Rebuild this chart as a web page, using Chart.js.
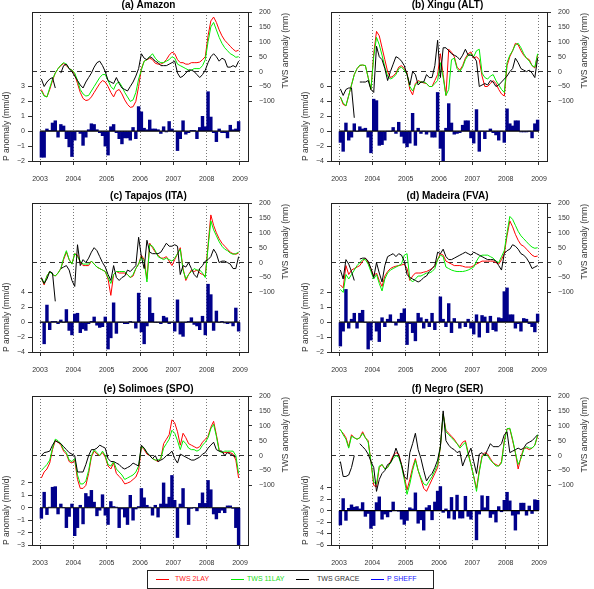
<!DOCTYPE html>
<html>
<head>
<meta charset="utf-8">
<script src="https://cdn.jsdelivr.net/npm/chart.js@4.4.1/dist/chart.umd.min.js"></script>
<style>
    body { margin: 0; background: #fff; width: 594px; height: 589px; position: relative; overflow: hidden; }
    canvas { position: absolute; }
    #legend { position: absolute; left: 147px; top: 570px; width: 285px; height: 17px; border: 1px solid #222;
              font: 7px "Liberation Sans", Arial, sans-serif; z-index: 2; background: #fff; }
    #legend .ln { position: absolute; display: block; top: 8px; width: 13px; height: 0; border-top: 1px solid; }
    #legend .tx { position: absolute; top: 4px; white-space: nowrap; }
</style>
</head>
<body>
<canvas id="pa" width="297" height="190" style="left:0px;top:0px"></canvas>
<canvas id="pb" width="297" height="190" style="left:299px;top:0px"></canvas>
<canvas id="pc" width="297" height="190" style="left:0px;top:191px"></canvas>
<canvas id="pd" width="297" height="190" style="left:299px;top:191px"></canvas>
<canvas id="pe" width="297" height="190" style="left:0px;top:384px"></canvas>
<canvas id="pf" width="297" height="190" style="left:299px;top:384px"></canvas>
<div id="legend">
    <span class="ln" style="left:8px;border-color:#ff0000"></span><span class="tx" style="left:27px;color:#ff2020">TWS 2LAY</span>
    <span class="ln" style="left:83px;border-color:#00ee00"></span><span class="tx" style="left:99px;color:#20dd20">TWS 11LAY</span>
    <span class="ln" style="left:148px;border-color:#000000"></span><span class="tx" style="left:169px;color:#333">TWS GRACE</span>
    <span class="ln" style="left:223px;border-color:#0000ff"></span><span class="tx" style="left:239px;color:#2020ff">P SHEFF</span>
</div>
<script>
// Tick labels
const yearTicks = [2003, 2004, 2005, 2006, 2007, 2008, 2009];
const twsTicks = [-100, -50, 0, 50, 100, 150, 200];

// (a) Amazon
const pAmazon = [-1.75, -1.75, 0.15, 0.05, 0.55, 0.7, -0.4, 0.45, 0.35, -0.5, -1.05, -1.7,
    -0.6, 0.0, -0.15, -0.95, -0.4, 0.1, 0.5, 0.45, 0.1, -0.1, -0.3, -1.0,
    -1.6, 0.3, 0.45, -0.1, -0.5, -0.85, -0.45, -0.45, -0.6, 0.25, -0.5, 1.65,
    1.3, 0.2, 0.1, 0.75, 0.15, 0.15, 0.1, -0.15, 0.3, -0.05, 0.65, 0.15,
    0.0, -1.3, -0.5, 0.7, -0.2, -0.1, 0.05, 0.05, -0.5, 0.25, 1.0, 0.3,
    2.65, 0.95, -0.1, -0.7, 0.15, -0.1, -0.1, -0.45, 0.4, 0.1, 0.15, 0.65];
const tws2Amazon = [-60, -80, -85, -60, -30, -5, 10, 20, 27, 20, 10, 5,
    -10, -40, -70, -90, -97, -95, -85, -70, -55, -40, -30, -35,
    -50, -70, -85, -65, -60, -75, -95, -110, -120, -118, -100, -50,
    10, 35, 40, 45, 40, 28, 25, 25, 30, 40, 55, 65,
    60, 40, 30, 30, 25, 25, 30, 30, 30, 32, 40, 50,
    120, 170, 183, 165, 140, 120, 105, 95, 85, 75, 68, 72];
const tws11Amazon = [-65, -82, -85, -55, -25, -5, 10, 22, 30, 25, 10, 5,
    -5, -30, -60, -75, -82, -80, -65, -50, -35, -20, -10, -10,
    -30, -50, -60, -40, -35, -50, -70, -85, -100, -95, -70, -25,
    5, 35, 40, 50, 60, 45, 35, 30, 30, 35, 40, 50,
    45, 25, 20, 15, 10, 5, 5, 10, 10, 10, 20, 40,
    100, 150, 165, 140, 115, 95, 80, 70, 60, 55, 48, 50];
const graceAmazon = [-25, -50, -35, -25, -20, -55, null, -5, 20, 25, 10, 0,
    -15, -30, -45, -55, -35, -20, -5, 15, 30, 35, 20, 0,
    -30, -35, -40, -20, -40, -55, -60, -65, -50, -35, -15, 10,
    60, 45, 40, 50, 45, 35, 30, 20, 20, 20, 25, 30,
    35, -5, -20, -15, -5, 5, 5, 0, -10, -20, -10, 5,
    30, 50, 60, 50, 35, 45, 40, 15, 15, 20, 15, 35];

// (b) Xingu (ALT)
const pXingu = [-1.5, -2.7, 1.1, -1.2, -0.8, 1.0, 0.0, 0.6, 0.3, 0.4, -0.8, -2.9,
    4.3, 4.1, -1.9, -1.8, -1.2, 0.0, 0.0, 0.5, -0.3, 1.2, -0.7, -1.6,
    -2.1, -1.6, 2.4, -1.9, 0.4, -0.3, 0.0, -0.4, -0.1, -0.8, -0.8, 5.2,
    -2.3, -4.0, 0.4, 3.7, 1.1, -0.4, -0.3, -0.2, 0.8, 1.4, 1.4, -0.9,
    -1.6, 2.9, -2.7, 0.0, -1.0, 0.0, 0.3, -0.2, -0.5, -1.2, 0.0, -1.5,
    3.0, 1.0, 0.7, 1.4, 1.4, -0.1, -0.1, -0.1, 0.0, -0.9, 1.0, 1.5];
const tws2Xingu = [-85, -110, -115, -80, -45, -10, 10, 20, 22, 20, -20, -60,
    60, 135, 120, 80, 40, 0, -20, -15, -5, 15, 20, 10,
    -5, -60, -78, -40, -30, -35, -38, -40, -50, -50, -30, -10,
    60, -10, -80, 75, 65, 50, 15, 5, 20, 45, 60, 66,
    45, 50, 40, -15, -50, -50, -40, -30, -40, -60, -75, -82,
    20, 50, 70, 95, 90, 70, 55, 45, 40, 20, 12, 55];
const tws11Xingu = [-85, -105, -115, -80, -45, -10, 10, 22, 22, 20, -20, -60,
    50, 115, 90, 55, 15, -15, -25, -20, -10, 10, 15, 5,
    -10, -50, -65, -45, -35, -35, -35, -40, -50, -50, -40, -30,
    30, -20, -80, -60, 40, 45, 10, 0, 15, 40, 55, 60,
    50, 70, 75, -5, -20, -25, -15, -10, -30, -45, -60, -70,
    30, 55, 70, 90, 95, 80, 60, 45, 35, 20, 15, 60];
const graceXingu = [-58, -80, -60, -55, -55, -155, null, -35, -35, -35, -30, -60,
    -70, 85, 50, 40, 10, -30, 0, 25, 50, 45, 35, 20,
    -10, -45, 0, -10, -45, -35, -35, -10, -20, -20, 20, 105,
    -20, 80, 80, 70, 60, 55, 50, 40, 55, 75, 55, 55,
    50, 35, -50, -45, -40, -45, -30, -35, -50, -45, -35, -25,
    -15, 0, 10, 45, 30, 10, 5, 0, 5, -5, -20, 45];

// (c) Tapajos (ITA)
const pTapajos = [0.0, -2.9, 2.3, -1.0, 0.1, 0.1, -0.2, 0.3, 0.0, 1.7, -1.1, -1.7,
    1.1, 1.2, -1.4, -0.9, -1.1, -0.2, 0.1, 0.7, -0.4, -0.7, -0.6, 0.7,
    -3.6, -2.1, 2.6, -1.5, 0.0, 0.0, -0.2, -0.2, 0.1, 0.0, -0.8, 3.9,
    -1.3, -2.9, -0.5, 3.3, 1.2, 0.0, 0.0, -0.2, 0.8, 0.6, -0.2, 0.0,
    -1.2, 3.0, -1.6, -1.9, 0.0, 0.1, 0.6, -0.3, -0.5, -1.0, 0.8, -1.7,
    5.1, 3.7, -1.1, 1.5, 0.0, 0.1, -0.1, -0.2, -0.1, -0.5, 1.9, -1.2];
const tws2Tapajos = [-52, -75, -45, -30, -40, -45, -35, -20, 10, 35, 10, -5,
    30, 25, 0, -10, -10, -10, 5, -5, -15, -20, -25, -30,
    -55, -110, -40, -30, -35, -35, -35, -40, -50, -45, -20, -5,
    25, 10, -55, 65, 50, 35, 25, 15, 15, 20, 5, -10,
    10, 30, 50, -20, -60, -40, -25, -30, -25, -35, -40, -45,
    60, 160, 125, 100, 80, 65, 55, 45, 35, 30, 28, 32];
const tws11Tapajos = [-55, -70, -45, -30, -40, -45, -35, -20, 15, 40, 10, -5,
    30, 20, 5, -5, -5, -5, 5, -5, -15, -20, -25, -30,
    -50, -70, -40, -30, -30, -30, -30, -40, -50, -40, -20, -5,
    20, 5, -65, 60, 55, 40, 20, 15, 10, 15, 10, 5,
    15, 30, 45, -25, -55, -40, -30, -20, -25, -25, -35, -50,
    50, 140, 110, 90, 70, 55, 45, 40, 32, 28, 30, 35];
const graceTapajos = [-50, -70, -55, -30, -35, -130, null, -20, -15, -10, -25, -60,
    -80, 60, -10, 10, 0, 15, 35, 50, 40, 20, 0, -15,
    -40, -60, -10, -50, -60, -50, -45, -25, -30, -20, -10, 85,
    20, -20, 75, 35, 30, 30, 30, 35, 50, 65, 55, 55,
    60, 55, -40, -10, -15, 0, -20, -40, -50, -20, -10, 5,
    10, 20, 45, 30, 0, 5, 5, 0, -5, -20, -20, 20];

// (d) Madeira (FVA)
const pMadeira = [-1.6, -0.6, 2.2, -0.4, 0.2, 0.6, -0.4, 0.6, 0.8, 0.0, -1.8, -1.2,
    0.0, -0.6, -1.3, 0.3, -0.3, 0.2, 0.5, 0.0, -0.2, 0.2, 0.6, 0.9,
    -1.5, -0.1, -0.7, -1.25, 0.6, 0.3, -0.4, 0.2, -0.3, 0.6, -0.5, 0.0,
    1.7, 0.2, -0.3, 1.25, -0.7, 0.25, 0.0, -0.4, 0.0, -0.3, 0.2, -0.4,
    -0.8, 0.5, -1.0, 0.45, 0.35, -0.7, 0.4, -0.5, -0.6, 0.3, 0.25, 2.05,
    2.3, 0.5, 0.5, -0.4, -0.1, -0.6, 0.25, 0.2, -0.1, -0.3, -0.65, 0.55];
const tws2Madeira = [-75, -85, -10, -40, -25, -20, -15, -10, 5, 15, 0, -20,
    -45, -35, -60, -80, -45, -30, -20, -15, -12, -10, -8, -5,
    -20, -60, -45, -35, -35, -35, -32, -30, -25, -20, -10, 10,
    30, 25, 5, 0, -5, -10, -10, -10, -12, -15, -15, -15,
    -10, -5, 0, 5, 5, 5, 5, 5, 0, -5, 10, 30,
    90, 140, 120, 95, 75, 60, 55, 45, 35, 25, 20, 22];
const tws11Madeira = [-90, -100, -40, -55, -40, -25, -10, 0, 10, 10, -5, -30,
    -55, -40, -70, -95, -55, -35, -25, -20, -15, -10, -5, 25,
    30, -55, -65, -55, -45, -45, -40, -35, -35, -30, -20, 10,
    25, 20, -15, -20, -25, -28, -30, -30, -30, -28, -25, -20,
    -15, 5, 20, 25, 25, 25, 20, 15, 5, 0, 20, 40,
    100, 155, 145, 125, 105, 90, 80, 70, 60, 52, 48, 50];
const graceMadeira = [-25, -55, 10, -5, -30, -60, null, 12, 15, 15, 5, -20,
    -50, 0, -35, -65, -10, 20, 25, 30, 20, 30, 25, 5,
    -40, -50, -55, -60, -65, -60, -50, -45, -30, -20, -10, 35,
    30, 45, 20, 10, 10, 15, 20, 25, 30, 35, 30, 25,
    35, 30, 25, 20, 15, 10, 10, 10, 5, -10, -25, 30,
    40, 45, 60, 55, 45, 30, 25, 15, 0, -20, -15, -10];

// (e) Solimoes (SPO)
const pSolimoes = [-0.85, 1.25, -0.55, 0.05, 1.65, 1.7, -0.5, 0.3, 0.0, -1.6, -0.7, 0.3,
    -2.25, -1.6, 0.2, -1.3, 1.15, 0.9, 1.4, 0.45, -0.65, -0.2, 1.05, -0.6,
    -1.35, 0.5, 0.1, 0.05, -1.6, -0.1, -0.75, -1.35, 1.0, -1.0, -0.1, 0.1,
    1.55, 0.8, 0.2, 0.05, -0.6, 0.2, -0.75, 0.3, 2.0, 0.3, 0.85, 2.6,
    0.6, -2.4, 0.3, 1.55, 0.0, -1.35, -0.05, 0.0, -0.25, 0.35, 1.2, 0.35,
    2.2, 1.45, -0.5, -0.9, -0.4, -0.2, -0.4, 0.15, 0.15, -0.05, -1.6, -3.0];
const tws2Solimoes = [-75, -55, -45, -25, 20, 50, 45, 35, 15, 5, -20, -25,
    -15, -80, -110, -110, -100, -60, -5, 15, 5, 0, 10, -5,
    -35, -45, -25, -60, -70, -80, -95, -92, -88, -80, -72, -50,
    30, 20, 5, 0, -10, -15, -20, -10, 40, 55, 70, 120,
    110, 80, 35, 75, 60, 40, 35, 30, 25, 30, 45, 55,
    65, 95, 115, 70, 20, 10, 10, 10, 10, 5, -15, -75];
const tws11Solimoes = [-50, -40, -30, -15, 25, 55, 50, 40, 20, 10, -15, -20,
    -10, -65, -95, -95, -85, -50, 0, 20, 10, 0, 15, 0,
    -30, -35, -20, -45, -55, -65, -80, -75, -70, -65, -55, -35,
    30, 25, 10, 0, -10, -15, -15, -10, 25, 40, 55, 85,
    75, 50, 20, 50, 40, 25, 20, 20, 15, 20, 35, 45,
    60, 90, 105, 65, 15, 10, 15, 15, 15, 15, 0, -60];
const graceSolimoes = [0, 10, 12, 15, 35, 50, 45, 40, 30, 20, 10, 5,
    0, -55, -55, -55, -30, 0, 20, 20, 25, 35, 30, 25,
    -10, -20, -20, -25, -30, -40, -45, -40, -35, -25, -30, -35,
    35, 25, 10, 0, -10, 0, -20, -15, -10, 0, 5, 15,
    -10, -25, 5, 0, -5, -10, -15, -15, -10, -5, 5, 10,
    25, 35, 45, 20, 15, 15, 0, 10, 5, 0, -5, null];

// (f) Negro (SER)
const pNegro = [-2.5, 2.1, -1.7, 0.4, 1.0, 0.6, 0.7, 0.3, 1.4, -1.0, -0.5, -3.1,
    -2.6, 1.4, 2.4, -1.5, -0.6, -1.1, -0.2, 1.5, 0.0, -0.1, -1.5, -2.4,
    -1.7, 0.5, 0.3, 3.1, -2.2, -1.6, -3.4, 0.5, 0.9, -1.6, 1.5, 3.4,
    4.2, -0.3, 0.3, -1.3, 2.3, -1.5, 2.7, -1.3, -1.3, 2.5, -1.0, -1.5,
    0.0, -5.1, -0.6, 2.6, 0.5, 2.5, -1.2, -0.6, -2.0, 0.7, -0.2, 1.8,
    3.2, 1.7, -0.8, -3.4, -0.6, 1.3, 1.3, -0.8, 0.8, -0.5, 1.9, 1.8];
const tws2Negro = [85, 75, 60, 30, 70, 60, 55, 60, 80, 60, 50, -20,
    -100, -105, -40, -30, -45, -40, -20, 0, 10, 5, -30, -70,
    -115, -80, -40, -10, -50, -80, -110, -120, -100, -80, -60, -40,
    30, 140, 85, 75, 65, 55, 40, 30, 45, 50, 10, -30,
    -70, -110, -50, 0, 10, 5, -10, -25, -30, -35, -20, 50,
    90, 90, 50, 10, -45, -5, 25, 25, 20, 25, 35, 65];
const tws11Negro = [88, 70, 55, 25, 65, 60, 55, 60, 75, 60, 45, -20,
    -90, -95, -35, -30, -45, -40, -25, -10, 0, -5, -35, -80,
    -130, -95, -50, -15, -50, -75, -95, -100, -85, -70, -50, -30,
    30, 140, 80, 70, 60, 50, 40, 25, 35, 45, 5, -30,
    -70, -120, -55, -5, 5, 0, -15, -25, -35, -35, -25, 45,
    90, 92, 55, 10, -30, -10, 20, 30, 25, 25, 35, 70];
const graceNegro = [-20, -70, -70, -65, -40, 0, null, 40, 30, 20, 5, -20,
    -40, -120, -80, -60, -50, -30, -25, -5, 25, 0, -30, -70,
    -80, 10, 40, 75, 20, -10, -50, -85, -70, -60, -40, -15,
    30, 150, 50, 35, 25, 20, 10, 15, -35, -10, 5, 25,
    -20, -60, 5, 10, 0, 20, 40, 30, 30, 30, 40, 70,
    80, 10, 15, 20, 25, 20, 25, 40, 45, 50, 60, 70];

// P axis tick labels per panel
const pTicksAmazon = [-2, -1, 0, 1, 2, 3];
const pTicksXingu = [-4, -2, 0, 2, 4, 6];
const pTicksTapajos = [-4, -2, 0, 2, 4];
const pTicksMadeira = [-2, -1, 0, 1, 2];
const pTicksSolimoes = [-3, -2, -1, 0, 1, 2];
const pTicksNegro = [-6, -4, -2, 0, 2, 4];

const fontFamily = '"Liberation Sans", Arial, Helvetica, sans-serif';

// monthly positions (mid month)
function toXY(vals) {
    return vals.map((v, i) => ({ x: yearTicks[0] + (i + 0.5) / 12, y: v }));
}
function fmt(v) {
    return v < 0 ? '\u2212' + Math.abs(v) : String(v);
}

// frame round the plot region
const boxPlugin = {
    id: 'box',
    afterDraw(chart) {
        const a = chart.chartArea;
        const ctx = chart.ctx;
        ctx.save();
        ctx.strokeStyle = '#222';
        ctx.lineWidth = 1;
        ctx.strokeRect(Math.round(a.left) + 0.5, Math.round(a.top) + 0.5,
            Math.round(a.right - a.left), Math.round(a.bottom - a.top));
        ctx.restore();
    }
};

// right axis title, read bottom to top like the left one
const rightTitlePlugin = {
    id: 'rightTitle',
    afterDraw(chart, args, opts) {
        const ctx = chart.ctx;
        ctx.save();
        ctx.font = '8.5px ' + fontFamily;
        ctx.fillStyle = '#333';
        ctx.translate(opts.x, chart.chartArea.top + 1);
        ctx.rotate(-Math.PI / 2);
        ctx.textAlign = 'right';
        ctx.textBaseline = 'middle';
        ctx.fillText(opts.text, 0, 0);
        ctx.restore();
    }
};

function makePanel(id, title, pMin, pMax, pTicks, pVals, tws2, tws11, grace) {
    const ctx = document.getElementById(id);
    const lineDs = (label, vals, color, order) => ({
        type: 'line', label: label, data: toXY(vals), xAxisID: 'x', yAxisID: 'tws',
        borderColor: color, borderWidth: 1, pointRadius: 0, spanGaps: false, order: order
    });
    new Chart(ctx, {
        type: 'bar',
        data: {
            datasets: [
                lineDs('TWS 2LAY', tws2, '#ff0000', 3),
                lineDs('TWS 11LAY', tws11, '#00ee00', 2),
                lineDs('TWS GRACE', grace, '#000000', 1),
                {
                    type: 'line', label: 'zero', xAxisID: 'x', yAxisID: 'p',
                    data: [{ x: yearTicks[0], y: 0 }, { x: yearTicks[yearTicks.length - 1], y: 0 }],
                    borderColor: '#000', borderWidth: 1.2, pointRadius: 0, order: 4
                },
                {
                    type: 'bar', label: 'P SHEFF', data: toXY(pVals), xAxisID: 'x', yAxisID: 'p',
                    backgroundColor: '#00008b', borderWidth: 0,
                    barPercentage: 1, categoryPercentage: 1, order: 5
                }
            ]
        },
        options: {
            responsive: false,
            animation: false,
            events: [],
            layout: { padding: 0 },
            plugins: {
                legend: { display: false },
                tooltip: { enabled: false },
                title: {
                    display: true, text: title, color: '#000',
                    font: { family: fontFamily, size: 10, weight: 'bold', lineHeight: 1 },
                    padding: { top: 0, bottom: 2 }
                },
                rightTitle: { text: 'TWS anomaly (mm)', x: 286 }
            },
            scales: {
                x: {
                    type: 'linear', min: 2002.76, max: 2009.24, offset: false,
                    afterBuildTicks: a => { a.ticks = yearTicks.map(v => ({ value: v })); },
                    afterFit: s => { s.height = 29; },
                    grid: { offset: false, color: '#777', lineWidth: 1, drawTicks: true, tickLength: 4, tickColor: '#333' },
                    border: { display: false, dash: [1, 2] },
                    ticks: {
                        callback: v => String(v), autoSkip: false, maxRotation: 0,
                        font: { family: fontFamily, size: 7 }, color: '#333', padding: 10
                    }
                },
                p: {
                    position: 'left', min: pMin, max: pMax,
                    afterBuildTicks: a => { a.ticks = pTicks.map(v => ({ value: v })); },
                    afterFit: s => { s.width = 32; },
                    grid: { drawOnChartArea: false, drawTicks: true, tickLength: 4, tickColor: '#333' },
                    border: { display: false },
                    ticks: { callback: v => fmt(v), font: { family: fontFamily, size: 7 }, color: '#333', padding: 3 },
                    title: {
                        display: true, text: 'P anomaly (mm/d)', align: 'start', color: '#333',
                        font: { family: fontFamily, size: 8.5 }, padding: { top: 1.5, bottom: 0 }
                    }
                },
                tws: {
                    position: 'right', min: -300, max: 200,
                    afterBuildTicks: a => { a.ticks = twsTicks.map(v => ({ value: v })); },
                    afterFit: s => { s.width = 49; },
                    grid: {
                        drawOnChartArea: true, drawTicks: true, tickLength: 4, tickColor: '#333', lineWidth: 1,
                        color: c => (c.tick && c.tick.value === 0) ? '#333' : 'rgba(0,0,0,0)'
                    },
                    border: { display: false, dash: [5, 4] },
                    ticks: {
                        callback: v => fmt(v), crossAlign: 'near',
                        font: { family: fontFamily, size: 7 }, color: '#333', padding: 7
                    }
                }
            }
        },
        plugins: [boxPlugin, rightTitlePlugin]
    });
}

makePanel('pa', '(a) Amazon', -2, 8, pTicksAmazon, pAmazon, tws2Amazon, tws11Amazon, graceAmazon);
makePanel('pb', '(b) Xingu (ALT)', -4, 16, pTicksXingu, pXingu, tws2Xingu, tws11Xingu, graceXingu);
makePanel('pc', '(c) Tapajos (ITA)', -4, 16, pTicksTapajos, pTapajos, tws2Tapajos, tws11Tapajos, graceTapajos);
makePanel('pd', '(d) Madeira (FVA)', -2, 8, pTicksMadeira, pMadeira, tws2Madeira, tws11Madeira, graceMadeira);
makePanel('pe', '(e) Solimoes (SPO)', -3, 9, pTicksSolimoes, pSolimoes, tws2Solimoes, tws11Solimoes, graceSolimoes);
makePanel('pf', '(f) Negro (SER)', -6, 20, pTicksNegro, pNegro, tws2Negro, tws11Negro, graceNegro);
</script>
</body>
</html>
